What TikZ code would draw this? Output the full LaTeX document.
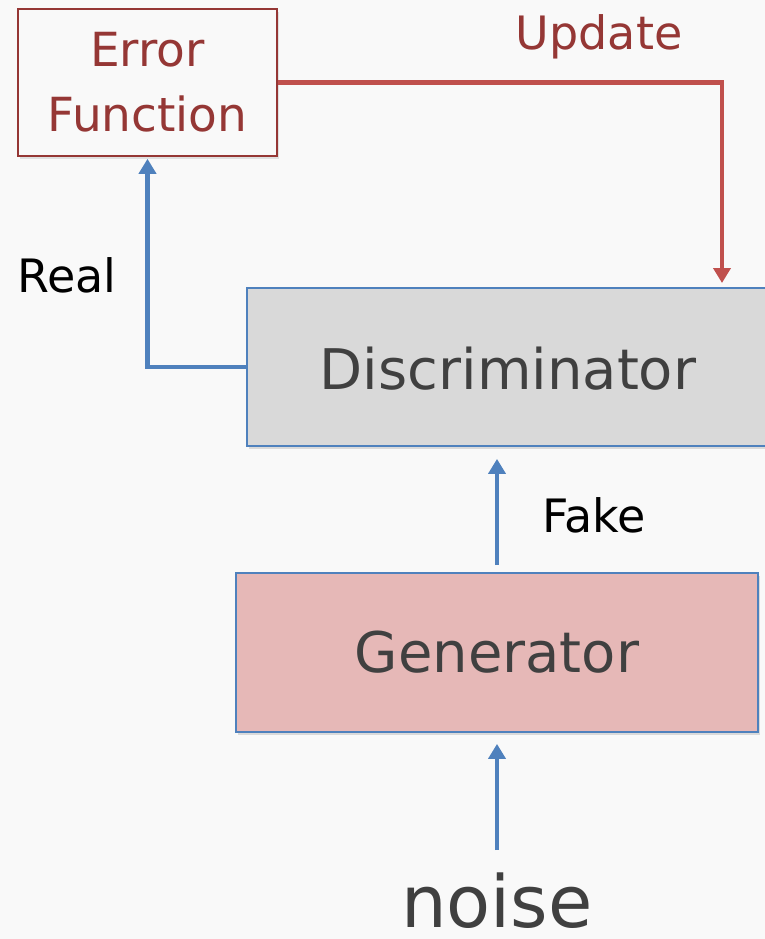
\documentclass[tikz,border=0pt]{standalone}
\usepackage{fontspec}
\setmainfont{DejaVu Sans}
\usetikzlibrary{arrows.meta,shadows}
\definecolor{bgc}{HTML}{F9F9F9}
\definecolor{redline}{HTML}{C0504D}
\definecolor{redtext}{HTML}{953735}
\definecolor{blueline}{HTML}{4F81BD}
\definecolor{discfill}{HTML}{D9D9D9}
\definecolor{genfill}{HTML}{E6B8B7}
\definecolor{darktext}{HTML}{404040}
\tikzset{
  box/.style={draw=blueline, line width=1.8pt, inner sep=0pt,
    drop shadow={shadow xshift=2pt, shadow yshift=-3pt, opacity=0.25}},
  flow/.style={line width=4.8pt, -{Triangle[width=17pt,length=15pt]}},
  bigtext/.style={text=darktext, font=\fontsize{56}{60}\selectfont},
  lbl/.style={font=\fontsize{46}{50}\selectfont}
}
\begin{document}
\begin{tikzpicture}[x=1pt,y=-1pt]
\useasboundingbox (0,0) rectangle (765,939);
\clip (0,0) rectangle (765,939);
\fill[bgc] (0,0) rectangle (765,939);
% boxes
\node[draw=redtext, line width=1.6pt, fill=bgc, minimum width=259pt, minimum height=147pt,
  drop shadow={shadow xshift=2pt, shadow yshift=-3pt, opacity=0.2},
  text=redtext, align=center, font=\fontsize{47}{65}\selectfont] (err) at (147.5,82.5) {Error\\Function};
\node[box, fill=discfill, minimum width=530pt, minimum height=158pt] (disc) at (512,367) {};
\node[bigtext] (disctxt) at (508,369) {Discriminator};
\node[box, fill=genfill, minimum width=522pt, minimum height=159pt, bigtext] (gen) at (497,652.5) {Generator};
\node[text=darktext, font=\fontsize{72}{80}\selectfont, anchor=base, inner sep=1pt] (noise) at (497,927) {noise};
% labels
\node[lbl, text=redtext, anchor=base] (upd) at (599,50) {Update};
\node[lbl, anchor=base] (real) at (67,292) {Real};
\node[lbl, anchor=base] (fake) at (594,532) {Fake};
% connectors
\coordinate (updtip) at (722,283);
\coordinate (nstart) at (497,850);
\draw[flow, redline] (err.east) -| (updtip);
\draw[flow, blueline] (disc.west) -| ([yshift=-2pt]err.south);
\draw[flow, blueline, shorten <=7pt, shorten >=12pt] (gen.north) -- (gen.north |- disc.south);
\draw[flow, blueline, shorten >=11pt] (nstart) -- (gen.south);
\end{tikzpicture}
\end{document}
